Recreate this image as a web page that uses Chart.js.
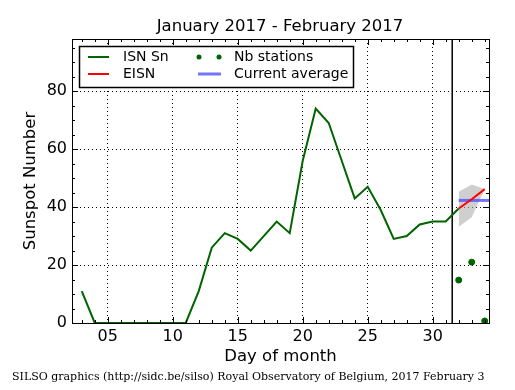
<!DOCTYPE html>
<html>
<head>
<meta charset="utf-8">
<script src="https://cdn.jsdelivr.net/npm/chart.js@4.4.1/dist/chart.umd.min.js"></script>
<style>
  html, body { margin: 0; padding: 0; background: #fff; }
  #wrap { width: 515px; height: 390px; }
</style>
</head>
<body>
<div id="wrap"><canvas id="myChart" width="515" height="390"></canvas></div>
<script>
// daily values
const isnDays = [3,4,5,6,7,8,9,10,11,12,13,14,15,16,17,18,19,20,21,22,23,24,25,26,27,28,29,30,31,32];
const isnSn   = [11,0,0,0,0,0,0,0,0,11,26,31,29,25,30,35,31,56,74,69,56,43,47,39,29,30,34,35,35,39.5];

const eisnDays = [32,33,34];
const eisn     = [39.5,42.7,46.2];
const bandHigh = [45.3,47.8,46.2];
const bandLow  = [33.2,36.5,46.2];

const avgDays = [32,34.33];
const avgVal  = [42.3,42.3];

const stationDays = [32,33,34];
const stations    = [14.8,21,0.7];

const monthEnd = 31.5;

const xTicks = [5,10,15,20,25,30];
const yTicks = [0,20,40,60,80];
const xMin = 2.25, xMax = 34.33, yMin = 0, yMax = 98;

const titleText = "January 2017 - February 2017";
const footerText = "SILSO graphics (http://sidc.be/silso) Royal Observatory of Belgium, 2017 February 3";

const pts = (xs, ys) => xs.map((x, i) => ({x: x, y: ys[i]}));

const FONT = "'DejaVu Sans', sans-serif";

// frame, inward ticks, title, footer and legend
const decor = {
  id: 'decor',
  afterDatasetsDraw(chart) {
    const ctx = chart.ctx;
    const a = chart.chartArea;
    const xs = chart.scales.x, ys = chart.scales.y;
    ctx.save();
    ctx.strokeStyle = '#000';
    ctx.lineWidth = 1;
    ctx.beginPath();
    for (let d = Math.ceil(xMin); d <= xMax; d++) {
      const px = Math.round(xs.getPixelForValue(d)) + 0.5;
      const len = d % 5 === 0 ? 6 : 3;
      ctx.moveTo(px, a.bottom); ctx.lineTo(px, a.bottom - len);
      ctx.moveTo(px, a.top); ctx.lineTo(px, a.top + len);
    }
    for (let v = 0; v <= yMax; v += 5) {
      const py = Math.round(ys.getPixelForValue(v)) + 0.5;
      const len = v % 20 === 0 ? 6 : 3;
      ctx.moveTo(a.left, py); ctx.lineTo(a.left + len, py);
      ctx.moveTo(a.right, py); ctx.lineTo(a.right - len, py);
    }
    ctx.stroke();
    ctx.strokeRect(Math.round(a.left) + 0.5, Math.round(a.top) + 0.5,
      Math.round(a.right - a.left), Math.round(a.bottom - a.top));
    ctx.restore();
  },
  afterDraw(chart) {
    const ctx = chart.ctx;
    ctx.save();
    ctx.fillStyle = '#000';
    ctx.textBaseline = 'middle';
    ctx.textAlign = 'center';
    ctx.font = "16.5px " + FONT;
    ctx.fillText(titleText, 280, 27);
    ctx.textAlign = 'left';
    ctx.font = "11px 'DejaVu Serif', serif";
    ctx.fillText(footerText, 12, 377);

    // legend box
    ctx.fillStyle = '#fff';
    ctx.fillRect(79, 46, 274, 41);
    ctx.strokeStyle = '#000';
    ctx.lineWidth = 1.5;
    ctx.strokeRect(79.5, 46.5, 274, 41);
    const rows = [57, 74];
    ctx.lineWidth = 2;
    ctx.strokeStyle = '#006400';
    ctx.beginPath(); ctx.moveTo(88, rows[0]); ctx.lineTo(109, rows[0]); ctx.stroke();
    ctx.strokeStyle = '#ff0000';
    ctx.beginPath(); ctx.moveTo(88, rows[1]); ctx.lineTo(109, rows[1]); ctx.stroke();
    ctx.lineWidth = 3;
    ctx.strokeStyle = 'rgba(80,80,255,0.8)';
    ctx.beginPath(); ctx.moveTo(198, rows[1]); ctx.lineTo(221, rows[1]); ctx.stroke();
    ctx.fillStyle = '#006400';
    [199, 219].forEach(cx => { ctx.beginPath(); ctx.arc(cx, rows[0], 2.5, 0, Math.PI * 2); ctx.fill(); });
    ctx.fillStyle = '#000';
    ctx.font = "14px " + FONT;
    ctx.fillText("ISN Sn", 123, rows[0]);
    ctx.fillText("EISN", 123, rows[1]);
    ctx.fillText("Nb stations", 234, rows[0]);
    ctx.fillText("Current average", 234, rows[1]);
    ctx.restore();
  }
};

const ctx = document.getElementById('myChart');

new Chart(ctx, {
  type: 'line',
  data: {
    datasets: [
      {
        label: 'Nb stations',
        data: pts(stationDays, stations),
        showLine: false,
        pointRadius: 3,
        pointBackgroundColor: '#006400',
        pointBorderColor: '#006400',
        order: 0
      },
      {
        label: 'EISN',
        data: pts(eisnDays, eisn),
        borderColor: '#ff0000',
        borderWidth: 2,
        pointRadius: 0,
        order: 1
      },
      {
        label: 'Current average',
        data: pts(avgDays, avgVal),
        borderColor: 'rgba(80,80,255,0.8)',
        borderWidth: 3,
        pointRadius: 0,
        order: 2
      },
      {
        label: 'ISN Sn',
        data: pts(isnDays, isnSn),
        borderColor: '#006400',
        borderWidth: 2,
        pointRadius: 0,
        order: 3
      },
      {
        label: 'month end',
        data: [{x: monthEnd, y: yMin}, {x: monthEnd, y: yMax}],
        borderColor: '#000',
        borderWidth: 1.5,
        pointRadius: 0,
        order: 4
      },
      {
        label: 'band low',
        data: pts(eisnDays, bandLow),
        borderWidth: 0,
        borderColor: 'rgba(0,0,0,0)',
        pointRadius: 0,
        order: 6
      },
      {
        label: 'band high',
        data: pts(eisnDays, bandHigh),
        borderWidth: 0,
        borderColor: 'rgba(0,0,0,0)',
        backgroundColor: 'rgba(175,175,175,0.6)',
        fill: '-1',
        pointRadius: 0,
        order: 5
      }
    ]
  },
  options: {
    animation: false,
    responsive: false,
    tension: 0,
    layout: { padding: { left: 0, right: 26, top: 39, bottom: 0 } },
    plugins: {
      legend: { display: false },
      tooltip: { enabled: false },
      title: { display: false }
    },
    scales: {
      x: {
        type: 'linear',
        min: xMin,
        max: xMax,
        afterFit: s => { s.height = 67; },
        afterBuildTicks: s => { s.ticks = xTicks.map(v => ({value: v})); },
        grid: { color: '#000', lineWidth: 1, drawTicks: false },
        border: { display: false, dash: [1, 3] },
        ticks: {
          color: '#000',
          font: { family: FONT, size: 16 },
          padding: 4,
          maxRotation: 0,
          callback: v => String(v).padStart(2, '0')
        },
        title: {
          display: true,
          text: 'Day of month',
          color: '#000',
          font: { family: FONT, size: 16.5 },
          padding: { top: 0, bottom: 23 }
        }
      },
      y: {
        min: yMin,
        max: yMax,
        afterFit: s => { s.width = 72; },
        afterBuildTicks: s => { s.ticks = yTicks.map(v => ({value: v})); },
        grid: { color: '#000', lineWidth: 1, drawTicks: false },
        border: { display: false, dash: [1, 3] },
        ticks: {
          color: '#000',
          font: { family: FONT, size: 16 },
          padding: 5
        },
        title: {
          display: true,
          text: 'Sunspot Number',
          color: '#000',
          font: { family: FONT, size: 16.5 },
          padding: { top: 21, bottom: 0 }
        }
      }
    }
  },
  plugins: [decor]
});
</script>
</body>
</html>
